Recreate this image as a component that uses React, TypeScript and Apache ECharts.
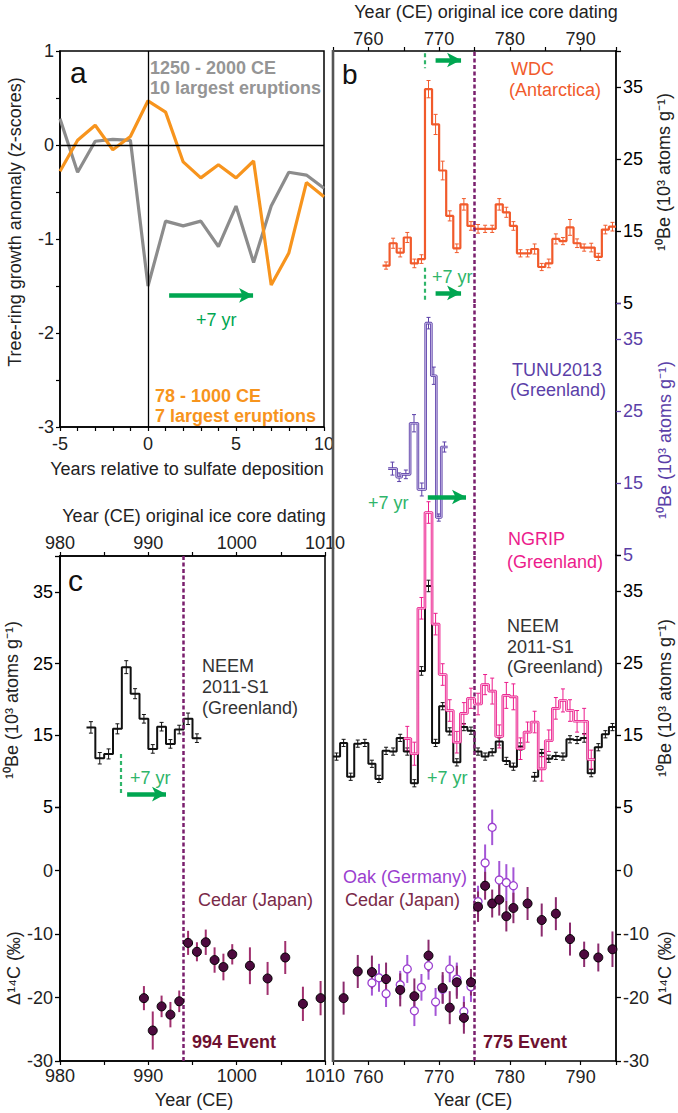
import React, { useEffect, useRef } from 'react';
import * as echarts from 'echarts';

// ---------- Panel a: superposed epoch ----------
const relYears = [-5, -4, -3, -2, -1, 0, 1, 2, 3, 4, 5, 6, 7, 8, 9, 10];
const early78to1000 = [-0.28, 0.05, 0.21, -0.05, 0.09, 0.47, 0.35, -0.18, -0.35, -0.21, -0.35, -0.17, -1.49, -1.15, -0.4, -0.55];
const late1250to2000 = [0.28, -0.29, 0.04, 0.06, 0.05, -1.5, -0.81, -0.86, -0.81, -1.08, -0.65, -1.25, -0.65, -0.29, -0.32, -0.46];

// ---------- Panel b: 10Be around 775 ----------
const wdcYears = [762, 763, 764, 765, 766, 767, 768, 769, 770, 771, 772, 773, 774, 775, 776, 777, 778, 779, 780, 781, 782, 783, 784, 785, 786, 787, 788, 789, 790, 791, 792, 793, 794];
const wdcVals = [10.2, 13.3, 12.0, 14.1, 10.5, 11.1, 34.7, 29.8, 23.4, 17.1, 12.6, 18.7, 15.7, 15.3, 15.3, 15.3, 18.7, 17.6, 15.7, 11.9, 11.9, 12.5, 10.0, 10.5, 13.9, 13.6, 15.5, 13.3, 12.7, 12.7, 11.4, 15.2, 15.6];
const wdcErr = [0.5, 0.7, 0.6, 0.7, 0.6, 0.6, 1.2, 1.4, 1.3, 0.7, 0.6, 0.8, 0.6, 0.6, 0.5, 0.5, 0.8, 0.7, 0.6, 0.5, 0.5, 0.7, 0.5, 0.6, 0.7, 0.5, 1.1, 0.6, 0.5, 0.6, 0.5, 0.6, 0.6];

const tunuEdges = [762.8, 764.0, 764.7, 765.9, 767.0, 768.1, 768.9, 769.6, 770.3, 771.2];
const tunuVals = [17.0, 15.8, 16.2, 23.3, 14.1, 37.2, 29.9, 10.2, 20.0];
const tunuErr = [0.9, 0.6, 0.6, 1.2, 0.9, 0.8, 1.2, 0.5, 0.7];

const ngripYears = [765, 766, 767, 768, 769, 770, 771, 772, 773, 774, 775, 776, 777, 778, 779, 780, 781, 782, 783, 784, 785, 786, 787, 788, 789, 790, 791];
const ngripVals = [14.5, 12.4, 32.6, 45.9, 30.4, 23.4, 18.4, 14.0, 18.0, 20.1, 19.3, 22.0, 21.1, 14.8, 20.5, 20.3, 13.1, 15.4, 16.8, 10.3, 14.2, 18.7, 19.8, 18.4, 16.9, 16.9, 11.6];
const ngripErr = [1.7, 1.6, 1.5, 1.5, 1.5, 1.5, 1.5, 1.5, 1.5, 1.4, 1.5, 1.4, 1.8, 1.6, 1.8, 1.8, 1.5, 1.4, 1.5, 1.7, 1.5, 1.5, 1.6, 1.5, 1.5, 1.8, 1.3];

const neemYears = [755, 756, 757, 758, 759, 760, 761, 762, 763, 764, 765, 766, 767, 768, 769, 770, 771, 772, 773, 774, 775, 776, 777, 778, 779, 780, 781, 782, 783, 784, 785, 786, 787, 788, 789, 790, 791, 792, 793, 794];
const neemVals = [12.0, 13.9, 9.2, 13.8, 13.9, 11.0, 8.9, 12.8, 12.7, 14.6, 12.7, 8.3, 23.9, 35.7, 13.9, 19.0, 15.5, 11.2, 16.1, 15.6, 12.7, 12.0, 12.6, 14.1, 11.4, 10.6, 13.4, null, 9.2, 12.5, 11.7, 12.1, 12.0, 14.4, 14.3, 14.6, 9.7, 13.3, 15.1, 16.1];
const neemErr = [0.5, 0.5, 0.5, 0.5, 0.5, 0.5, 0.5, 0.5, 0.5, 0.5, 0.5, 0.5, 0.6, 0.8, 0.5, 0.5, 0.5, 0.5, 0.5, 0.5, 0.5, 0.5, 0.5, 0.5, 0.5, 0.5, 0.5, null, 0.6, 0.5, 0.5, 0.5, 0.5, 0.5, 0.5, 0.6, 0.5, 0.5, 0.5, 0.5];

// Delta 14C around 775
const cedar775Years = [756.5, 758.5, 760.5, 762.5, 764.5, 766.5, 768.5, 770.5, 771.5, 772.5, 773.5, 774.5, 775.5, 776.5, 777.5, 778.5, 779.5, 780.5, 782.5, 784.5, 786.5, 788.5, 790.5, 792.5, 794.5];
const cedar775Vals = [-20.1, -15.9, -16.0, -17.1, -18.8, -19.8, -13.4, -18.5, -21.6, -17.6, -23.2, -17.6, -5.7, -2.4, -5.2, -4.6, -7.2, -5.9, -5.2, -7.8, -6.8, -10.8, -13.2, -13.7, -12.4];
const cedar775Err = [2.6, 2.6, 2.6, 2.6, 2.6, 2.8, 2.5, 2.5, 2.6, 2.6, 2.5, 2.1, 2.4, 2.2, 2.2, 2.5, 2.4, 2.4, 2.6, 2.6, 2.6, 2.6, 2.0, 2.2, 2.8];

const oakYears = [760.5, 761.5, 762.5, 764.5, 765.5, 766.5, 767.5, 768.5, 769.5, 770.5, 771.5, 772.5, 773.5, 774.5, 775.5, 776.5, 777.5, 778.5, 779.5, 780.5];
const oakVals = [-17.7, -16.9, -19.4, -18.0, -15.5, -22.1, -18.4, -15.0, -20.7, -18.7, -15.5, -17.1, -22.2, -18.3, -4.9, 1.2, 6.8, -1.5, -1.9, -2.4];
const oakErr = [2.0, 2.2, 2.1, 2.2, 2.2, 2.4, 2.1, 2.2, 2.2, 2.2, 2.1, 2.6, 2.4, 2.4, 2.5, 2.9, 2.8, 3.0, 2.9, 2.9];

// ---------- Panel c: around 994 ----------
const neemCYears = [983, 984, 985, 986, 987, 988, 989, 990, 991, 992, 993, 994, 995];
const neemCVals = [16.1, 11.8, 12.4, 15.9, 24.5, 20.8, 17.3, 13.1, 16.2, 13.8, 15.8, 17.3, 14.6];
const neemCErr = [0.8, 0.8, 0.7, 0.7, 0.9, 0.7, 0.6, 0.6, 0.6, 0.6, 0.6, 0.8, 0.6];

const cedar994Years = [989.5, 990.5, 991.5, 992.5, 993.5, 994.5, 995.5, 996.5, 997.5, 998.5, 999.5, 1001.5, 1003.5, 1005.5, 1007.5, 1009.5];
const cedar994Vals = [-20.1, -25.2, -21.4, -22.7, -20.6, -11.4, -12.8, -11.3, -14.1, -15.2, -13.2, -15.0, -17.0, -13.7, -21.0, -20.1];
const cedar994Err = [1.9, 3.0, 1.7, 2.0, 1.7, 1.9, 1.5, 2.0, 2.0, 2.1, 1.6, 2.9, 2.6, 2.6, 2.7, 2.7];

const beTicks = [5, 15, 25, 35];
const c14Ticks = [0, -10, -20, -30];

// ---------- styling ----------
const FONT = "'Liberation Sans', Arial, Helvetica, sans-serif";
const GREEN = '#00a651';
const LGREEN = '#2fb56a';
const EVENT = '#7a1f6d';
const ORANGE = '#f7941d';
const GRAY = '#8c8c8c';
const WDC = '#f15a2b';
const TUNU = '#5b3fa8';
const NGRIP = '#ec1c8c';
const OAK = '#9b3fcf';
const CEDAR = '#4d0a3e';
const CEDARTXT = '#7a2a48';
const TICKC = '#222';

function stepFromYears(years: number[], vals: (number | null)[]) {
  const pts: any[] = [];
  years.forEach((y, i) => {
    const v = vals[i];
    if (v == null) {
      pts.push([y + 0.5, null]);
    } else {
      pts.push([y, v]);
      pts.push([y + 1, v]);
    }
  });
  return pts;
}
function stepFromEdges(edges: number[], vals: number[]) {
  const pts: any[] = [];
  vals.forEach((v, i) => {
    pts.push([edges[i], v]);
    pts.push([edges[i + 1], v]);
  });
  return pts;
}
function errYears(years: number[], vals: (number | null)[], errs: (number | null)[]) {
  const out: any[] = [];
  years.forEach((y, i) => {
    if (vals[i] != null && errs[i] != null) out.push([y + 0.5, vals[i], errs[i]]);
  });
  return out;
}
function errEdges(edges: number[], vals: number[], errs: number[]) {
  return vals.map((v, i) => [(edges[i] + edges[i + 1]) / 2, v, errs[i]]);
}
function errPts(xs: number[], vals: number[], errs: number[]) {
  return xs.map((x, i) => [x, vals[i], errs[i]]);
}

function errSeries(xi: number, yi: number, data: any[], color: string, width: number, cap: number) {
  return {
    type: 'custom',
    xAxisIndex: xi,
    yAxisIndex: yi,
    silent: true,
    clip: false,
    z: 2,
    data,
    renderItem: (params: any, api: any) => {
      const x = api.value(0);
      const y = api.value(1);
      const e = api.value(2);
      const t = api.coord([x, y + e]);
      const b = api.coord([x, y - e]);
      const children: any[] = [
        { type: 'line', shape: { x1: t[0], y1: t[1], x2: b[0], y2: b[1] }, style: { stroke: color, lineWidth: width } },
      ];
      if (cap > 0) {
        children.push({ type: 'line', shape: { x1: t[0] - cap, y1: t[1], x2: t[0] + cap, y2: t[1] }, style: { stroke: color, lineWidth: 1 } });
        children.push({ type: 'line', shape: { x1: b[0] - cap, y1: b[1], x2: b[0] + cap, y2: b[1] }, style: { stroke: color, lineWidth: 1 } });
        const m = api.coord([x, y]);
        children.push({ type: 'line', shape: { x1: m[0] - cap, y1: m[1], x2: m[0] + cap, y2: m[1] }, style: { stroke: color, lineWidth: 1 } });
      }
      return { type: 'group', children };
    },
  };
}

const eventLine = (x: number) => ({
  xAxis: x,
  symbol: 'none',
  lineStyle: { color: EVENT, width: 2.5, type: [4, 2.5] },
});
const greenDash = (x: number, y1: number, y2: number) => [
  { coord: [x, y1], symbol: 'none', lineStyle: { color: LGREEN, width: 2.2, type: [4, 3] } },
  { coord: [x, y2], symbol: 'none' },
];
const greenArrow = (x1: number, x2: number, y: number) => [
  { coord: [x1, y], symbol: 'none', lineStyle: { color: GREEN, width: 4.5, type: 'solid' } },
  { coord: [x2, y], symbol: 'arrow', symbolSize: [11, 14] },
];
const mk = (data: any[]) => ({
  silent: true,
  animation: false,
  symbol: 'none',
  label: { show: false },
  emphasis: { disabled: true },
  data,
});

function T(text: string, x: number, y: number, color: string, size = 18, weight = 'normal', align = 'left', rotation = 0) {
  return {
    type: 'text',
    x,
    y,
    rotation,
    silent: true,
    z: 20,
    style: {
      text,
      fill: color,
      font: `${weight} ${size}px ${FONT}`,
      textAlign: align,
      textVerticalAlign: 'middle',
    },
  };
}

const labelStyle = { fontSize: 18, fontFamily: FONT, color: TICKC };

function buildOption() {
  const grids = [
    { left: 60, top: 51, width: 264, height: 376 }, // 0 panel a
    { left: 333, top: 51, width: 283, height: 252 }, // 1 WDC
    { left: 333, top: 303, width: 283, height: 252 }, // 2 TUNU
    { left: 333, top: 555, width: 283, height: 252 }, // 3 NEEM/NGRIP
    { left: 333, top: 807, width: 283, height: 254 }, // 4 D14C 775
    { left: 60, top: 556, width: 265, height: 251 }, // 5 NEEM 994
    { left: 60, top: 807, width: 265, height: 254 }, // 6 D14C 994
  ].map((g) => ({ ...g, containLabel: false, outerBoundsMode: 'none' }));

  const hiddenX = (gi: number, min: number, max: number) => ({
    type: 'value', gridIndex: gi, min, max, show: false, splitLine: { show: false },
    axisLine: { onZero: false },
  });
  const tens = (v: number) => (v % 10 === 0 ? String(v) : '');
  const xLine = { onZero: false, lineStyle: { color: '#000', width: 1.5 } };

  const xAxis = [
    {
      type: 'value', gridIndex: 0, min: -5, max: 10, interval: 1, position: 'bottom',
      axisLine: xLine,
      axisTick: { length: 4, lineStyle: { color: '#000', width: 1.2 } },
      axisLabel: { ...labelStyle, margin: 8, formatter: (v: number) => (v % 5 === 0 ? String(v) : '') },
      splitLine: { show: false },
    },
    {
      type: 'value', gridIndex: 1, min: 755, max: 795, interval: 5, position: 'top',
      axisLine: xLine,
      axisTick: { length: 4, lineStyle: { color: '#000', width: 1.2 } },
      axisLabel: { ...labelStyle, margin: 3, formatter: tens },
      splitLine: { show: false },
    },
    hiddenX(2, 755, 795),
    hiddenX(3, 755, 795),
    {
      type: 'value', gridIndex: 4, min: 755, max: 795, interval: 5, position: 'bottom',
      axisLine: xLine,
      axisTick: { length: 4, lineStyle: { color: '#000', width: 1.2 } },
      axisLabel: { ...labelStyle, margin: 7, formatter: tens },
      splitLine: { show: false },
    },
    {
      type: 'value', gridIndex: 5, min: 980, max: 1010, interval: 5, position: 'top',
      axisLine: xLine,
      axisTick: { length: 4, lineStyle: { color: '#000', width: 1.2 } },
      axisLabel: { ...labelStyle, margin: 4, formatter: tens },
      splitLine: { show: false },
    },
    {
      type: 'value', gridIndex: 6, min: 980, max: 1010, interval: 5, position: 'bottom',
      axisLine: xLine,
      axisTick: { length: 4, lineStyle: { color: '#000', width: 1.2 } },
      axisLabel: { ...labelStyle, margin: 6, formatter: tens },
      splitLine: { show: false },
    },
  ];

  const beAxis = (gi: number, position: string, color: string, margin: number) => ({
    type: 'value', gridIndex: gi, min: 5, max: 40, interval: 10, position,
    axisLine: { show: true, onZero: false, lineStyle: { color: '#000', width: 1.8 } },
    axisTick: { show: true, length: 5, lineStyle: { color, width: 1.3 } },
    axisLabel: { ...labelStyle, color, margin, formatter: (v: number) => (beTicks.includes(v) ? String(v) : '') },
    splitLine: { show: false },
  });
  const c14Axis = (gi: number, position: string, margin: number) => ({
    type: 'value', gridIndex: gi, min: -30, max: 10, interval: 10, position,
    axisLine: { show: true, onZero: false, lineStyle: { color: '#000', width: 1.8 } },
    axisTick: { show: true, length: 5, lineStyle: { color: '#000', width: 1.3 } },
    axisLabel: { ...labelStyle, margin, formatter: (v: number) => (c14Ticks.includes(v) ? String(v) : '') },
    splitLine: { show: false },
  });

  const yAxis = [
    {
      type: 'value', gridIndex: 0, min: -3, max: 1, interval: 0.5, position: 'left',
      axisLine: { show: true, onZero: false, lineStyle: { color: '#000', width: 1.5 } },
      axisTick: { show: true, length: 4, lineStyle: { color: '#000', width: 1.2 } },
      axisLabel: { ...labelStyle, margin: 6, formatter: (v: number) => (Number.isInteger(v) ? String(v) : '') },
      splitLine: { show: false },
    },
    beAxis(1, 'right', '#000', 7),
    beAxis(2, 'right', TUNU, 7),
    beAxis(3, 'right', '#000', 7),
    c14Axis(4, 'right', 7),
    beAxis(5, 'left', '#000', 7),
    c14Axis(6, 'left', 7),
  ];

  const series: any[] = [
    // ---- panel a ----
    {
      type: 'line', xAxisIndex: 0, yAxisIndex: 0, symbol: 'none', z: 3,
      data: relYears.map((x, i) => [x, late1250to2000[i]]),
      lineStyle: { color: GRAY, width: 3.2 },
      markLine: mk([
        { xAxis: 0, lineStyle: { color: '#000', width: 1.3, type: 'solid' } },
        { yAxis: 0, lineStyle: { color: '#000', width: 1.3, type: 'solid' } },
      ]),
    },
    {
      type: 'line', xAxisIndex: 0, yAxisIndex: 0, symbol: 'none', z: 4,
      data: relYears.map((x, i) => [x, early78to1000[i]]),
      lineStyle: { color: ORANGE, width: 3.2 },
      markLine: mk([greenArrow(1.2, 5.97, -1.6)]),
    },
    // ---- panel b: WDC ----
    {
      type: 'line', xAxisIndex: 1, yAxisIndex: 1, symbol: 'none', clip: false, z: 3,
      data: stepFromYears(wdcYears, wdcVals),
      lineStyle: { color: WDC, width: 2.2 },
      markLine: mk([
        eventLine(775),
        greenDash(768, 39.7, 37.6),
        greenArrow(769.5, 773.1, 38.75),
        greenDash(768, 9.9, 5.4),
        greenArrow(769.5, 773.1, 6.4),
      ]),
    },
    errSeries(1, 1, errYears(wdcYears, wdcVals, wdcErr), WDC, 1, 2),
    // TUNU
    {
      type: 'line', xAxisIndex: 2, yAxisIndex: 2, symbol: 'none', clip: false, z: 3,
      data: stepFromEdges(tunuEdges, tunuVals),
      lineStyle: { color: TUNU, width: 2.6 },
      markLine: mk([eventLine(775), greenArrow(768.4, 773.8, 13.06)]),
    },
    {
      type: 'line', xAxisIndex: 2, yAxisIndex: 2, symbol: 'none', clip: false, z: 4,
      data: stepFromEdges(tunuEdges, tunuVals),
      lineStyle: { color: '#e2d9f4', width: 0.8 },
    },
    errSeries(2, 2, errEdges(tunuEdges, tunuVals, tunuErr), TUNU, 1, 2),
    // NEEM 775
    {
      type: 'line', xAxisIndex: 3, yAxisIndex: 3, symbol: 'none', clip: false, z: 3, connectNulls: false,
      data: stepFromYears(neemYears, neemVals),
      lineStyle: { color: '#111', width: 2 },
      markLine: mk([eventLine(775), greenDash(767.9, 8.06, 3.6), greenArrow(768.4, 773.6, 4.86)]),
    },
    errSeries(3, 3, errYears(neemYears, neemVals, neemErr), '#111', 1, 2),
    // NGRIP
    {
      type: 'line', xAxisIndex: 3, yAxisIndex: 3, symbol: 'none', clip: false, z: 5,
      data: stepFromYears(ngripYears, ngripVals),
      lineStyle: { color: NGRIP, width: 2.6 },
    },
    {
      type: 'line', xAxisIndex: 3, yAxisIndex: 3, symbol: 'none', clip: false, z: 6,
      data: stepFromYears(ngripYears, ngripVals),
      lineStyle: { color: '#fbd4ea', width: 0.8 },
    },
    errSeries(3, 3, errYears(ngripYears, ngripVals, ngripErr), NGRIP, 1, 2),
    // D14C 775: oak then cedar
    errSeries(4, 4, errPts(oakYears, oakVals, oakErr), '#a455d6', 2, 0),
    {
      type: 'scatter', xAxisIndex: 4, yAxisIndex: 4, symbol: 'circle', symbolSize: 8, z: 4,
      data: oakYears.map((x, i) => [x, oakVals[i]]),
      itemStyle: { color: '#ffffff', borderColor: OAK, borderWidth: 1.3, opacity: 1 },
    },
    errSeries(4, 4, errPts(cedar775Years, cedar775Vals, cedar775Err), '#8b2b6e', 2, 0),
    {
      type: 'scatter', xAxisIndex: 4, yAxisIndex: 4, symbol: 'circle', symbolSize: 9, z: 5,
      data: cedar775Years.map((x, i) => [x, cedar775Vals[i]]),
      itemStyle: { color: CEDAR, borderColor: '#000', borderWidth: 1, opacity: 1 },
      markLine: mk([eventLine(775)]),
    },
    // ---- panel c ----
    {
      type: 'line', xAxisIndex: 5, yAxisIndex: 5, symbol: 'none', clip: false, z: 3,
      data: stepFromYears(neemCYears, neemCVals),
      lineStyle: { color: '#111', width: 2 },
      markLine: mk([eventLine(994), greenDash(986.9, 12.4, 6.6), greenArrow(987.6, 992.0, 6.8)]),
    },
    errSeries(5, 5, errYears(neemCYears, neemCVals, neemCErr), '#111', 1, 2),
    errSeries(6, 6, errPts(cedar994Years, cedar994Vals, cedar994Err), '#a0306e', 2, 0),
    {
      type: 'scatter', xAxisIndex: 6, yAxisIndex: 6, symbol: 'circle', symbolSize: 9, z: 5,
      data: cedar994Years.map((x, i) => [x, cedar994Vals[i]]),
      itemStyle: { color: CEDAR, borderColor: '#000', borderWidth: 1, opacity: 1 },
      markLine: mk([eventLine(994)]),
    },
  ];

  const beName = '¹⁰Be (10³ atoms g⁻¹)';
  const c14Name = 'Δ¹⁴C (‰)';
  const R = Math.PI / 2;

  const graphic: any[] = [
    // frames
    { type: 'rect', silent: true, z: 1, shape: { x: 60, y: 51, width: 264, height: 376 }, style: { fill: 'none', stroke: '#000', lineWidth: 1.5 } },
    { type: 'rect', silent: true, z: 1, shape: { x: 60, y: 556, width: 265, height: 505 }, style: { fill: 'none', stroke: '#000', lineWidth: 1.5 } },
    { type: 'line', silent: true, z: 1, shape: { x1: 333, y1: 50, x2: 333, y2: 1062 }, style: { stroke: '#555', lineWidth: 2.6 } },
    // panel a texts
    T('a', 70, 72, '#111', 30),
    T('1250 - 2000 CE', 150, 68, '#959595', 18, 'bold'),
    T('10 largest eruptions', 150, 88, '#959595', 18, 'bold'),
    T('78 - 1000 CE', 155, 396, ORANGE, 18, 'bold'),
    T('7 largest eruptions', 155, 416, ORANGE, 18, 'bold'),
    T('+7 yr', 196, 320, GREEN, 18),
    T('Tree-ring growth anomaly (z-scores)', 15, 222, '#222', 18, 'normal', 'center', R),
    T('Years relative to sulfate deposition', 187, 469, '#222', 18, 'normal', 'center'),
    // panel b texts
    T('b', 342, 74, '#111', 28),
    T('Year (CE) original ice core dating', 486, 12, '#222', 18, 'normal', 'center'),
    T('WDC', 511, 69, WDC, 18),
    T('(Antarctica)', 509, 90, WDC, 18),
    T('+7 yr', 432, 277, LGREEN, 18),
    T('TUNU2013', 512, 370, TUNU, 18),
    T('(Greenland)', 510, 390, TUNU, 18),
    T('+7 yr', 368, 503, LGREEN, 18),
    T('NGRIP', 508, 539, NGRIP, 18),
    T('(Greenland)', 507, 562, NGRIP, 18),
    T('NEEM', 507, 626, '#333', 18),
    T('2011-S1', 507, 647, '#333', 18),
    T('(Greenland)', 507, 667, '#333', 18),
    T('+7 yr', 427, 778, LGREEN, 18),
    T('Oak (Germany)', 343, 877, OAK, 18),
    T('Cedar (Japan)', 345, 900, CEDARTXT, 18),
    T('775 Event', 483, 1042, '#6e1030', 18, 'bold'),
    T(beName, 664, 172, '#222', 18, 'normal', 'center', R),
    T(beName, 665, 440, TUNU, 18, 'normal', 'center', R),
    T(beName, 665, 698, '#222', 18, 'normal', 'center', R),
    T(c14Name, 665, 968, '#222', 18, 'normal', 'center', R),
    T('Year (CE)', 473, 1100, '#222', 18, 'normal', 'center'),
    // panel c texts
    T('c', 68, 580, '#111', 30),
    T('Year (CE) original ice core dating', 194, 516, '#222', 18, 'normal', 'center'),
    T('NEEM', 202, 666, '#333', 18),
    T('2011-S1', 202, 687, '#333', 18),
    T('(Greenland)', 202, 708, '#333', 18),
    T('+7 yr', 130, 778, LGREEN, 18),
    T('Cedar (Japan)', 198, 900, CEDARTXT, 18),
    T('994 Event', 192, 1042, '#6e1030', 18, 'bold'),
    T(beName, 12, 700, '#222', 18, 'normal', 'center', R),
    T(c14Name, 14, 968, '#222', 18, 'normal', 'center', R),
    T('Year (CE)', 194, 1100, '#222', 18, 'normal', 'center'),
  ];

  return {
    animation: false,
    backgroundColor: '#ffffff',
    textStyle: { fontFamily: FONT },
    grid: grids,
    xAxis,
    yAxis,
    series,
    graphic,
  };
}

export default function App() {
  const ref = useRef<HTMLDivElement>(null);
  useEffect(() => {
    if (!ref.current) return;
    const chart = echarts.init(ref.current, undefined, { renderer: 'svg' });
    chart.setOption(buildOption() as any);
    return () => chart.dispose();
  }, []);
  return <div ref={ref} style={{ position: 'absolute', left: 0, top: 0, width: 678, height: 1113 }} />;
}
